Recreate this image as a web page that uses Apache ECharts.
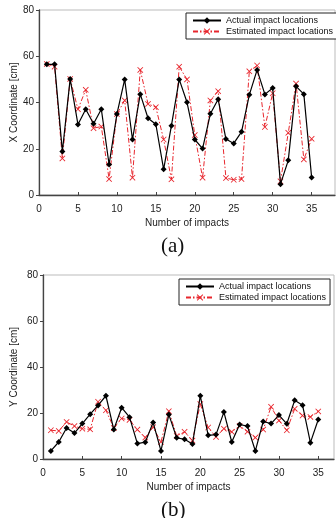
<!DOCTYPE html>
<html>
<head>
<meta charset="utf-8">
<script src="https://cdn.jsdelivr.net/npm/echarts@6/dist/echarts.min.js"></script>
<style>
  html, body { margin: 0; padding: 0; background: #fff; }
  #main { width: 336px; height: 518px; }
</style>
</head>
<body>
<div id="main"></div>
<script>
// impact numbers
const impacts = [1,2,3,4,5,6,7,8,9,10,11,12,13,14,15,16,17,18,19,20,21,22,23,24,25,26,27,28,29,30,31,32,33,34,35];

// (a) X coordinate [cm]
const xActual = [56.5,56.5,18.8,50.2,30.5,37.1,30.8,37.1,13.2,35,50,24,43.6,33.2,30.6,11.1,30,50,40.1,24,
  20.1,35.1,41.4,24.2,22.3,27.3,43.3,54.1,43.5,46.3,4.7,15,47,43.6,7.6];
const xEstimated = [56.7,55.5,15.8,50.2,37.1,45.5,28.9,29.6,6.9,35,40.9,7.5,54.1,39.4,38,24,6.8,55.5,50,25.9,
  7.5,40.9,44.9,7.3,6.6,6.9,53.5,56,29.4,44,5.9,26.9,48.2,15.4,24.3];

// (b) Y coordinate [cm]
const yActual = [3.5,7.4,13.5,11.3,15.4,19.5,23.3,27.5,12.8,22.3,18.2,6.7,7.3,15.9,3.5,19.3,9.2,8.6,6.5,27.5,
  10.3,10.6,20.4,7.4,15,14.3,3.5,16.3,15.4,19.1,15.3,25.5,23.4,7.1,17.2];
const yEstimated = [12.5,12.2,16.1,14.3,13.2,12.9,24.9,21.2,13.5,17.6,17,12.8,9.3,13.8,7.4,20.8,10,11.8,8,23.9,
  13.7,9.6,13.2,11.8,14.4,11.9,9.3,12.8,22.7,16.7,12.5,21.8,18.9,18.3,20.7];

const xTicks = [0,5,10,15,20,25,30,35];

const font = 'Liberation Sans, Arial, sans-serif';
const red = '#e8262d';
const crossPath = 'path://M0,1L1,0L5,4L9,0L10,1L6,5L10,9L9,10L5,6L1,10L0,9L4,5Z';

function pairs(vals) {
  return vals.map((v, i) => [impacts[i], v]);
}

function xAxisFor(gridIndex, max) {
  return {
    type: 'value', gridIndex: gridIndex, min: 0, max: max,
    name: 'Number of impacts', nameLocation: 'middle', nameGap: 23, nameMoveOverlap: false,
    nameTextStyle: { fontFamily: font, fontSize: 10, color: '#222' },
    axisLine: { lineStyle: { color: '#444', width: 1.3 } },
    axisTick: { inside: true, length: 3, lineStyle: { color: '#444' }, customValues: xTicks },
    axisLabel: { fontFamily: font, fontSize: 10, color: '#222', margin: 9, customValues: xTicks },
    splitLine: { show: false }
  };
}

function yAxisFor(gridIndex, name, gap) {
  return {
    type: 'value', gridIndex: gridIndex, min: 0, max: 80, interval: 20,
    name: name, nameLocation: 'middle', nameGap: gap, nameRotate: 90, nameMoveOverlap: false,
    nameTextStyle: { fontFamily: font, fontSize: 10, color: '#222' },
    axisLine: { show: true, lineStyle: { color: '#444', width: 1.3 } },
    axisTick: { show: true, length: 3, lineStyle: { color: '#444' } },
    axisLabel: { fontFamily: font, fontSize: 10, color: '#222', margin: 5 },
    splitLine: { show: false }
  };
}

function actualSeries(idx, vals) {
  return {
    name: 'Actual impact locations', type: 'line', xAxisIndex: idx, yAxisIndex: idx,
    data: pairs(vals), symbol: 'diamond', symbolSize: 6, z: 3,
    itemStyle: { color: '#000' },
    lineStyle: { color: '#000', width: 1.2 }
  };
}

function estimatedSeries(idx, vals) {
  return {
    name: 'Estimated impact locations', type: 'line', xAxisIndex: idx, yAxisIndex: idx,
    data: pairs(vals), symbol: crossPath, symbolSize: 6, z: 2,
    itemStyle: { color: red },
    lineStyle: { color: red, width: 1, type: [5, 2, 1.5, 2] }
  };
}

function legendFor(left, top) {
  return {
    left: left, top: top, orient: 'vertical',
    data: ['Actual impact locations', 'Estimated impact locations'],
    backgroundColor: '#fff', borderColor: '#222', borderWidth: 1,
    padding: [3, 4, 3, 6], itemGap: 2, itemWidth: 28, itemHeight: 8,
    textStyle: { fontFamily: font, fontSize: 9, color: '#111' }
  };
}

const chart = echarts.init(document.getElementById('main'));
chart.setOption({
  animation: false,
  grid: [
    { left: 39, top: 10, width: 296, height: 185, outerBoundsMode: 'none', containLabel: false,
      show: true, borderColor: '#bbb', borderWidth: 1 },
    { left: 43, top: 275, width: 291, height: 184, outerBoundsMode: 'none', containLabel: false,
      show: true, borderColor: '#bbb', borderWidth: 1 }
  ],
  xAxis: [xAxisFor(0, 38), xAxisFor(1, 37)],
  yAxis: [yAxisFor(0, 'X Coordinate [cm]', 20), yAxisFor(1, 'Y Coordinate [cm]', 24)],
  legend: [legendFor(186, 13), legendFor(179, 279)],
  series: [
    estimatedSeries(0, xEstimated),
    actualSeries(0, xActual),
    estimatedSeries(1, yEstimated),
    actualSeries(1, yActual)
  ],
  graphic: [
    { type: 'text', left: 161, top: 236, style: { text: '(a)', fontFamily: 'Liberation Serif, serif', fontSize: 21, fill: '#111' } },
    { type: 'text', left: 161, top: 500, style: { text: '(b)', fontFamily: 'Liberation Serif, serif', fontSize: 21, fill: '#111' } }
  ]
});
</script>
</body>
</html>
